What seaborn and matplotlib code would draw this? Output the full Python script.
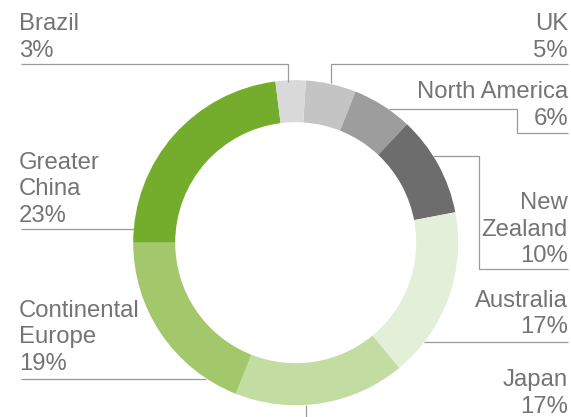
import matplotlib
matplotlib.use("Agg")
import matplotlib.pyplot as plt
import seaborn as sns

# Revenue share by region, clockwise from the top of the ring
regions = ["UK", "North America", "New Zealand", "Australia", "Japan",
           "Continental Europe", "Greater China", "Brazil"]
shares = [5, 6, 10, 17, 17, 19, 23, 3]
colors = ["#c4c4c4", "#9d9d9d", "#6d6d6d", "#e4efd9", "#c3dca2",
          "#a3c86c", "#73ad2b", "#d9d9d9"]

sns.set_theme(style="white")
plt.rcParams["font.family"] = ["Liberation Sans", "DejaVu Sans"]

W, H = 571, 417
fig = plt.figure(figsize=(W / 100, H / 100), dpi=100)
ax = fig.add_axes([0, 0, 1, 1])

cx, cy, R, ring = 295.7, 242.7, 162.5, 42


def fy(y):
    """Convert a top-down pixel row into the axes' bottom-up coordinate."""
    return H - y


ax.pie(shares, colors=colors, startangle=86.4, counterclock=False,
       radius=R, center=(cx, fy(cy)),
       wedgeprops=dict(width=ring, linewidth=0, antialiased=True))
ax.set_xlim(0, W)
ax.set_ylim(0, H)
ax.set_aspect("auto")
ax.axis("off")

text_color = "#747474"
line_color = "#9a9a9a"
fs = 17.2
step = 26.6


def label(lines, x, last_baseline, ha):
    n = len(lines)
    for i, s in enumerate(lines):
        yb = last_baseline - (n - 1 - i) * step
        ax.text(x, fy(yb), s, ha=ha, va="baseline", fontsize=fs,
                color=text_color)


def leader(points):
    xs = [p[0] for p in points]
    ys = [fy(p[1]) for p in points]
    ax.plot(xs, ys, color=line_color, lw=0.9, solid_capstyle="butt",
            solid_joinstyle="miter")


pct = dict(zip(regions, shares))

label(["Brazil", f"{pct['Brazil']}%"], 19, 56.7, "left")
leader([(21, 64), (287.5, 64), (287.5, 81.5)])

label(["UK", f"{pct['UK']}%"], 568, 56.7, "right")
leader([(330.7, 83), (330.7, 64), (568, 64)])

label(["North America", f"{pct['North America']}%"], 568, 125, "right")
leader([(389, 109.3), (516.7, 109.3), (516.7, 133.3), (568, 133.3)])

label(["New", "Zealand", f"{pct['New Zealand']}%"], 568, 262.5, "right")
leader([(433, 156), (479.3, 156), (479.3, 269.3), (568, 269.3)])

label(["Australia", f"{pct['Australia']}%"], 568, 333.3, "right")
leader([(424, 341.7), (568, 341.7)])

label(["Japan", f"{pct['Japan']}%"], 568, 413, "right")
leader([(306, 404.5), (306, 418)])

label(["Continental", "Europe", f"{pct['Continental Europe']}%"], 19, 370, "left")
leader([(21, 379), (206, 379)])

label(["Greater", "China", f"{pct['Greater China']}%"], 19, 221.7, "left")
leader([(21, 229.3), (134, 229.3)])

fig.savefig("out.png", dpi=100)
